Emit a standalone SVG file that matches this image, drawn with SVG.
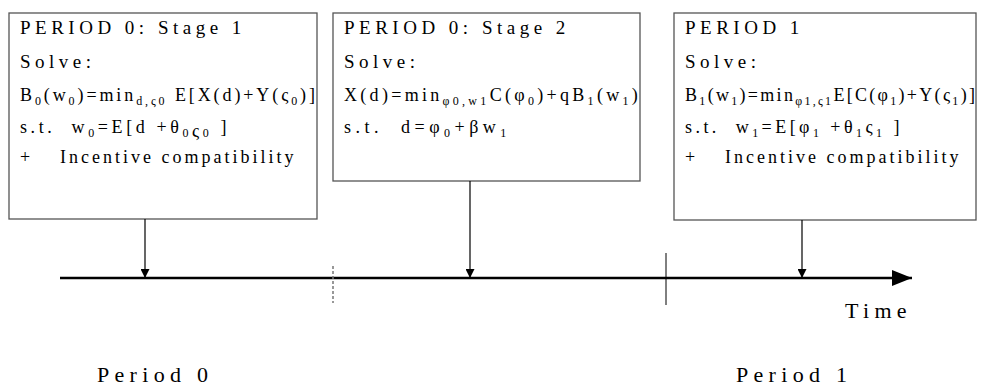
<svg xmlns="http://www.w3.org/2000/svg" width="982" height="390" viewBox="0 0 982 390">
<style>
.box{fill:#fff;stroke:#555;stroke-width:1.3}
.t{font-family:"Liberation Serif","Times New Roman",serif;font-size:18px;fill:#000}
.h{font-size:19px;letter-spacing:4.5px}
.inc{letter-spacing:3px}
.s{font-size:12px}
.lbl{font-family:"Liberation Serif","Times New Roman",serif;font-size:22px;letter-spacing:5.3px;fill:#000}
.conn{stroke:#000;stroke-width:1.2;fill:none}
</style>
<defs>
<marker id="ah" viewBox="0 0 10 10" refX="10" refY="5" markerWidth="10" markerHeight="9" markerUnits="userSpaceOnUse" orient="auto">
<path d="M0,0 L10,5 L0,10 Z" fill="#000"/>
</marker>
<marker id="big" viewBox="0 0 20 16" refX="20" refY="8" markerWidth="20" markerHeight="16" markerUnits="userSpaceOnUse" orient="auto">
<path d="M0,0 L20,8 L0,16 Z" fill="#000"/>
</marker>
</defs>

<g id="box1">
<rect class="box" x="9" y="13" width="308" height="206"/>
<text class="t h" x="20" y="34">PERIOD 0: Stage 1</text>
<text class="t h" x="20" y="68">Solve:</text>
<text class="t" x="20" y="101" letter-spacing="2.9">B<tspan class="s" dy="4">0</tspan><tspan dy="-4">(w</tspan><tspan class="s" dy="4">0</tspan><tspan dy="-4">)=min</tspan><tspan class="s" dy="4">d,ς0</tspan><tspan dy="-4"> E[X(d)+Y(ς</tspan><tspan class="s" dy="4">0</tspan><tspan dy="-4">)]</tspan></text>
<text class="t" x="20" y="133" letter-spacing="3.6" xml:space="preserve">s.t.  w<tspan class="s" dy="4">0</tspan><tspan dy="-4">=E[d +θ</tspan><tspan class="s" dy="4">0</tspan><tspan dy="0">ς</tspan><tspan class="s" dy="0">0</tspan><tspan dy="-4"> ]</tspan></text>
<text class="t" x="20" y="163">+</text>
<text class="t inc" x="60" y="163">Incentive compatibility</text>
</g>

<g id="box2">
<rect class="box" x="333" y="13" width="307" height="168"/>
<text class="t h" x="344" y="34">PERIOD 0: Stage 2</text>
<text class="t h" x="344" y="68">Solve:</text>
<text class="t" x="344" y="101" letter-spacing="3.3">X(d)=min<tspan class="s" dy="4">φ0,w1</tspan><tspan dy="-4">C(φ</tspan><tspan class="s" dy="4">0</tspan><tspan dy="-4">)+qB</tspan><tspan class="s" dy="4">1</tspan><tspan dy="-4">(w</tspan><tspan class="s" dy="4">1</tspan><tspan dy="-4">)</tspan></text>
<text class="t" x="344" y="133" letter-spacing="4.5" xml:space="preserve">s.t.  d=φ<tspan class="s" dy="4">0</tspan><tspan dy="-4">+βw</tspan><tspan class="s" dy="4">1</tspan></text>
</g>

<g id="box3">
<rect class="box" x="674" y="13" width="302" height="207"/>
<text class="t h" x="685" y="34">PERIOD 1</text>
<text class="t h" x="685" y="68">Solve:</text>
<text class="t" x="685" y="101" letter-spacing="2.3">B<tspan class="s" dy="4">1</tspan><tspan dy="-4">(w</tspan><tspan class="s" dy="4">1</tspan><tspan dy="-4">)=min</tspan><tspan class="s" dy="4">φ1,ς1</tspan><tspan dy="-4">E[C(φ</tspan><tspan class="s" dy="4">1</tspan><tspan dy="-4">)+Y(ς</tspan><tspan class="s" dy="4">1</tspan><tspan dy="-4">)]</tspan></text>
<text class="t" x="685" y="133" letter-spacing="3.45" xml:space="preserve">s.t.  w<tspan class="s" dy="4">1</tspan><tspan dy="-4">=E[φ</tspan><tspan class="s" dy="4">1</tspan><tspan dy="-4"> +θ</tspan><tspan class="s" dy="4">1</tspan><tspan dy="-4">ς</tspan><tspan class="s" dy="4">1</tspan><tspan dy="-4"> ]</tspan></text>
<text class="t" x="685" y="163">+</text>
<text class="t inc" x="725" y="163">Incentive compatibility</text>
</g>

<g id="connectors">
<line class="conn" x1="145" y1="219" x2="145" y2="278" marker-end="url(#ah)"/>
<line class="conn" x1="470" y1="181" x2="470" y2="278" marker-end="url(#ah)"/>
<line class="conn" x1="802" y1="220" x2="802" y2="278" stroke="#444" marker-end="url(#ah)"/>
</g>

<g id="timeline">
<line x1="60" y1="278" x2="912" y2="278" stroke="#000" stroke-width="2.5" marker-end="url(#big)"/>
<line x1="333" y1="266" x2="333" y2="303" stroke="#777" stroke-width="1.5" stroke-dasharray="3,2"/>
<line x1="666" y1="253" x2="666" y2="305" stroke="#000" stroke-width="1"/>
<text class="lbl" x="845" y="318" letter-spacing="6.8">Time</text>
<text class="lbl" x="97" y="382">Period 0</text>
<text class="lbl" x="736" y="382">Period 1</text>
</g>
</svg>
